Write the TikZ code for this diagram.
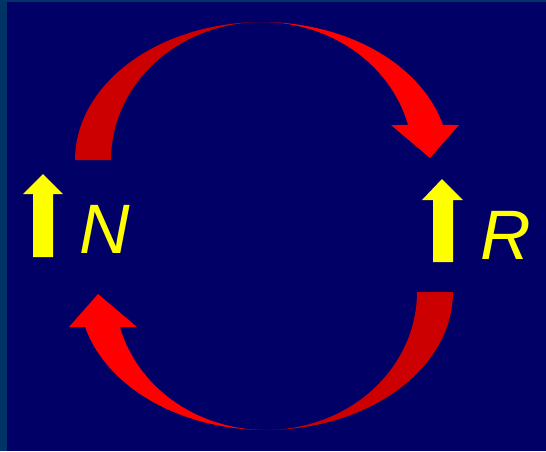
\documentclass[tikz,border=0pt]{standalone}
\usepackage{fontspec}
\setmainfont{Liberation Sans}
\definecolor{frame}{HTML}{003366}
\definecolor{navy}{HTML}{000066}
\definecolor{darkred}{HTML}{CC0000}
\definecolor{brightred}{HTML}{FF0000}
\definecolor{yel}{HTML}{FFFF00}
\tikzset{
  back/.style={fill=darkred, draw=none},
  front/.style={fill=brightred, draw=none},
  uparrow/.style={fill=yel, draw=none},
  letter/.style={text=yel, inner sep=0pt, anchor=base west, font=\fontsize{70}{84}\selectfont\itshape}
}
\begin{document}
\begin{tikzpicture}[x=1pt,y=-1pt]
\useasboundingbox (0,0) rectangle (546,451);
\fill[frame] (0,0) rectangle (546,451);
\fill[navy] (7,2) rectangle (546,451);
% curved arrow (top), drawn again rotated for bottom
\foreach \rot in {0,180}{
\begin{scope}[rotate around={\rot:(264,226)}]
  \fill[back] plot[domain=180:270,samples=60] ({262+187*cos(\x)},{160+138*sin(\x)})
     -- plot[domain=270:180,samples=60] ({262+151*cos(\x)},{160+138*sin(\x)}) -- cycle;
  \fill[front] plot[domain=270:345.3,samples=60] ({262+187*cos(\x)},{160+138*sin(\x)})
     -- (459,125) -- (430,158) -- (391,125)
     -- plot[domain=345.3:270,samples=60] ({262+151*cos(\x)},{160+138*sin(\x)}) -- cycle;
\end{scope}
}
% yellow arrows
\fill[uparrow] (33,257) -- (33,194) -- (23,194) -- (43,174) -- (63,194) -- (53,194) -- (53,257) -- cycle;
\fill[uparrow] (433,262) -- (433,200) -- (422,200) -- (442,179) -- (463,200) -- (453,200) -- (453,262) -- cycle;
\node[letter] (n) at (79,253) {N};
\node[letter] (r) at (480,259) {R};
\end{tikzpicture}
\end{document}
